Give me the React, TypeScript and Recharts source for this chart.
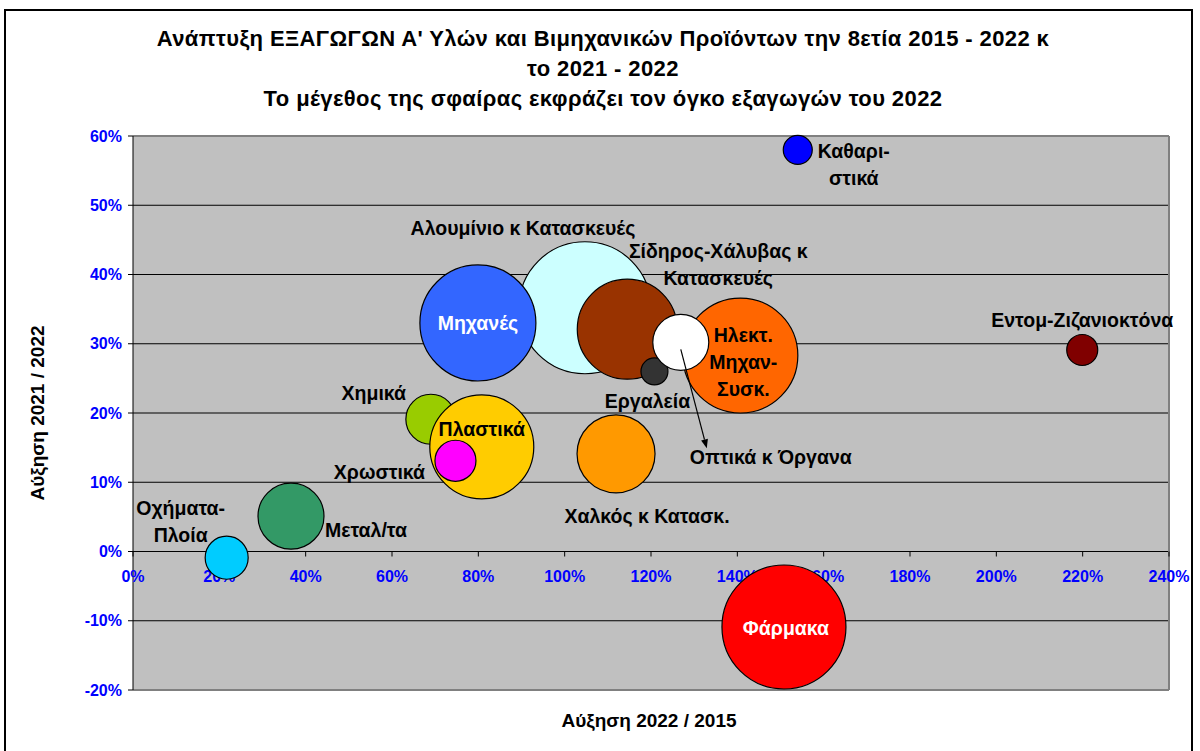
import React from 'react';
import { ScatterChart, Scatter, XAxis, YAxis, ZAxis, CartesianGrid, ReferenceDot, ReferenceLine } from 'recharts';

// draw order follows the original sheet (later items sit on top)
const products = [
    'Αλουμίνιο κ Κατασκευές',
    'Μηχανές',
    'Σίδηρος-Χάλυβας κ Κατασκευές',
    'Ηλεκτ. Μηχαν-Συσκ.',
    'Εργαλεία',
    'Οπτικά κ Όργανα',
    'Χημικά',
    'Πλαστικά',
    'Χρωστικά',
    'Χαλκός κ Κατασκ.',
    'Μεταλ/τα',
    'Οχήματα-Πλοία',
    'Καθαριστικά',
    'Εντομ-Ζιζανιοκτόνα',
    'Φάρμακα',
];
// label text as printed on the chart (lines split by \n)
const labelText = [
    'Αλουμίνιο κ Κατασκευές',
    'Μηχανές',
    'Σίδηρος-Χάλυβας κ\nΚατασκευές',
    'Ηλεκτ.\nΜηχαν-\nΣυσκ.',
    'Εργαλεία',
    'Οπτικά κ Όργανα',
    'Χημικά',
    'Πλαστικά',
    'Χρωστικά',
    'Χαλκός κ Κατασκ.',
    'Μεταλ/τα',
    'Οχήματα-\nΠλοία',
    'Καθαρι-\nστικά',
    'Εντομ-Ζιζανιοκτόνα',
    'Φάρμακα',
];
const growth2022vs2015 = [104.7, 79.9, 114.5, 140.7, 120.8, 126.9, 69.0, 80.8, 74.7, 111.9, 36.6, 21.7, 154.0, 219.9, 150.8];
const growth2022vs2021 = [35.2, 33.0, 32.1, 28.3, 26.0, 30.2, 19.1, 15.1, 13.1, 14.1, 5.1, -0.9, 58.0, 29.1, -10.9];
const exports2022 = [2900, 2240, 1664, 2200, 121, 522, 416, 1800, 280, 1013, 725, 308, 140, 160, 2559];

const xTicks = [0, 20, 40, 60, 80, 100, 120, 140, 160, 180, 200, 220, 240];
const yTicks = [-20, -10, 0, 10, 20, 30, 40, 50, 60];

const colors = ['#CCFFFF', '#3366FF', '#993300', '#FF6600', '#333333', '#FFFFFF', '#99CC00', '#FFCC00', '#FF00FF', '#FF9900', '#339966', '#00CCFF', '#0000FF', '#800000', '#FF0000'];
const labelColors = ['#000', '#fff', '#000', '#000', '#000', '#000', '#000', '#000', '#000', '#000', '#000', '#000', '#000', '#000', '#fff'];
const labelOffsets: [number, number][] = [
    [-62, -80], [0, 0], [91, -78], [3, -21], [-7, 30], [90, 115], [-57, -26], [0, -18],
    [-76, 11], [31, 62], [75, 14], [-46, -50], [56, 1], [0, -30], [2, 1],
];

const data = products.map((name, i) => ({
    name,
    x: growth2022vs2015[i],
    y: growth2022vs2021[i],
    z: exports2022[i],
    idx: i,
}));

const FONT = '"Liberation Sans", Arial, sans-serif';
const MAX_R = 66;

const Bubble = (props: any) => {
    const { cx, cy, width, payload } = props;
    const r = width / 2;
    return <circle cx={cx} cy={cy} r={r} fill={colors[payload.idx]} stroke="#000" strokeWidth={1.2} />;
};

const BubbleLabel = (props: any) => {
    const { cx, cy, payload } = props;
    const i = payload.idx;
    const [dx, dy] = labelOffsets[i];
    const lines = labelText[i].split('\n');
    let arrow = null;
    if (payload.name === 'Οπτικά κ Όργανα') {
        const x1 = cx, y1 = cy + 7, x2 = cx + 26, y2 = cy + 106;
        const a = Math.atan2(y2 - y1, x2 - x1);
        const h = 9, w = 3.5;
        const bx = x2 - h * Math.cos(a), by = y2 - h * Math.sin(a);
        const pts = `${x2},${y2} ${bx - w * Math.sin(a)},${by + w * Math.cos(a)} ${bx + w * Math.sin(a)},${by - w * Math.cos(a)}`;
        arrow = (
            <g>
                <line x1={x1} y1={y1} x2={bx} y2={by} stroke="#000" strokeWidth={1.2} />
                <polygon points={pts} fill="#000" />
            </g>
        );
    }
    return (
        <g>
            {arrow}
            {lines.map((l, k) => (
                <text key={k} x={cx + dx} y={cy + dy + k * 27} textAnchor="middle" dominantBaseline="central"
                    fill={labelColors[i]} fontSize={19.5} fontWeight="bold" fontFamily={FONT}>
                    {l}
                </text>
            ))}
        </g>
    );
};

const XTickMark = (props: any) => {
    const { cx, cy, value } = props;
    return (
        <g>
            <line x1={cx} y1={cy} x2={cx} y2={cy + 5} stroke="#000" strokeWidth={1} />
            <text x={cx} y={cy + 25} textAnchor="middle" dominantBaseline="central" fill="#0000FF"
                fontSize={16} fontWeight="bold" fontFamily={FONT}>
                {value}%
            </text>
        </g>
    );
};

const App: React.FC = () => {
    return (
        <div style={{ position: 'absolute', left: 0, top: 0, width: 1200, height: 751, background: '#fff', overflow: 'hidden', fontFamily: FONT }}>
            <div style={{ position: 'absolute', left: 4, top: 9, width: 1189, height: 800, border: '2px solid #000', boxSizing: 'border-box' }} />
            <div style={{ position: 'absolute', left: 6, top: 24, width: 1194, textAlign: 'center', fontSize: 22, fontWeight: 'bold', letterSpacing: 0.4, lineHeight: '30px', color: '#000' }}>
                Ανάπτυξη ΕΞΑΓΩΓΩΝ Α' Υλών και Βιμηχανικών Προϊόντων την 8ετία 2015 - 2022 κ<br />
                το 2021 - 2022<br />
                Το μέγεθος της σφαίρας εκφράζει τον όγκο εξαγωγών του 2022
            </div>
            <ScatterChart width={1200} height={751} margin={{ top: 136, right: 31, bottom: 61, left: 73 }}
                style={{ position: 'absolute', left: 0, top: 0 }}>
                <CartesianGrid vertical={false} stroke="#000" fill="#C0C0C0" />
                <XAxis type="number" dataKey="x" domain={[0, 240]} ticks={xTicks} hide />
                <YAxis type="number" dataKey="y" domain={[-20, 60]} ticks={yTicks} interval={0} width={60}
                    tickFormatter={(v: number) => `${v}%`} tickSize={5} tickMargin={6}
                    axisLine={{ stroke: '#000' }} tickLine={{ stroke: '#000' }}
                    tick={{ fill: '#0000FF', fontSize: 16, fontWeight: 'bold', fontFamily: FONT }} />
                <ZAxis type="number" dataKey="z" domain={[0, 2900]} range={[0, Math.PI * MAX_R * MAX_R]} />
                <ReferenceLine y={60} stroke="#808080" strokeWidth={2} />
                <ReferenceLine y={-20} stroke="#808080" strokeWidth={2} />
                <ReferenceLine x={240} stroke="#808080" strokeWidth={2} />
                {xTicks.map((t) => (
                    <ReferenceDot key={t} x={t} y={0} r={0} shape={(p: any) => <XTickMark {...p} value={t} />} />
                ))}
                <Scatter data={data} shape={Bubble} isAnimationActive={false} />
                <Scatter data={data} shape={BubbleLabel} isAnimationActive={false} />
            </ScatterChart>
            <div style={{ position: 'absolute', left: 549, top: 708, width: 200, textAlign: 'center', fontSize: 19, fontWeight: 'bold', lineHeight: '26px' }}>
                Αύξηση 2022 / 2015
            </div>
            <div style={{ position: 'absolute', left: 38, top: 413, width: 0, height: 0 }}>
                <div style={{ position: 'absolute', left: -120, top: -13, width: 240, textAlign: 'center', fontSize: 19, fontWeight: 'bold', lineHeight: '26px', transform: 'rotate(-90deg)', whiteSpace: 'nowrap' }}>
                    Αύξηση 2021 / 2022
                </div>
            </div>
        </div>
    );
};

export default App;
